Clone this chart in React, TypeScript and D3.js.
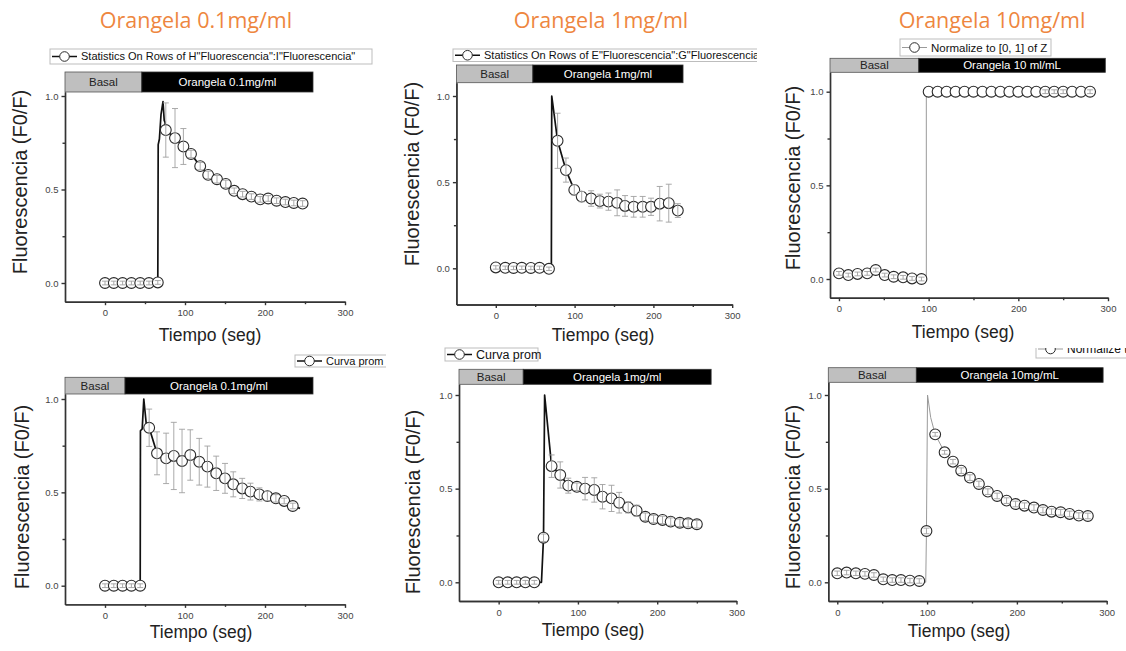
import { useEffect, useRef } from "react";
import * as d3 from "d3";

// each point: [time (s), F0/F, error]
const p1Points = [
  [0, 0, 0.01], [11, 0, 0.01], [22, 0, 0.01], [33, 0, 0.01], [44, 0, 0.01], [55, 0, 0.01], [66, 0.003, 0.01],
  [76, 0.818, 0.145], [87.5, 0.775, 0.158], [98, 0.73, 0.096], [107.5, 0.69, 0.02], [119, 0.625, 0.02],
  [129, 0.578, 0.02], [140, 0.555, 0.02], [151, 0.53, 0.02], [161.5, 0.493, 0.015], [172, 0.475, 0.015],
  [183, 0.462, 0.015], [194, 0.447, 0.015], [204, 0.452, 0.015], [214.5, 0.44, 0.015], [225.5, 0.433, 0.015],
  [236, 0.428, 0.015], [247, 0.425, 0.015],
];
// raw trace points drawn by the line only (no symbol)
const p1Trace = [[66.5, 0.74], [68, 0.77], [70, 0.9], [72.5, 0.97], [74, 0.87], [75, 0.86]];

const p2Points = [
  [0, 0.005, 0.01], [12, 0.003, 0.01], [22.5, 0.002, 0.01], [33, 0.003, 0.01], [44.5, 0.002, 0.01], [55.5, 0.003, 0.01],
  [67.5, -0.003, 0.01], [78.4, 0.74, 0.16], [89, 0.57, 0.07], [99.6, 0.455, 0.03], [109, 0.416, 0.03],
  [121, 0.405, 0.045], [132, 0.39, 0.04], [143, 0.387, 0.05], [154, 0.38, 0.075], [164, 0.362, 0.06],
  [175, 0.357, 0.06], [186.4, 0.357, 0.06], [197, 0.357, 0.05], [208, 0.375, 0.1], [219.5, 0.378, 0.11],
  [231, 0.335, 0.04],
];
const p2Trace = [[70.5, 0], [71, 1.0]];

const p3Points = [
  [0, 0.03, 0.01], [10.4, 0.021, 0.01], [20.7, 0.027, 0.01], [31.5, 0.03, 0.01], [41, 0.048, 0.01],
  [51, 0.021, 0.01], [61, 0.012, 0.01], [71.5, 0.009, 0.01], [81.5, 0.003, 0.01], [92, 0, 0.01],
  [100, 1, 0], [110, 1, 0], [120, 1, 0], [130, 1, 0], [140, 1, 0], [150, 1, 0], [160, 1, 0], [170, 1, 0],
  [180, 1, 0], [190, 1, 0], [200, 1, 0], [210, 1, 0], [220, 1, 0], [230, 1, 0.01], [240, 1, 0.01],
  [250, 1, 0.01], [260, 1, 0], [270, 1, 0], [280, 1, 0.01],
];
const p3Trace = [[97.4, 0], [97.4, 1.0]];

const p4Points = [
  [0, 0, 0.01], [11, 0, 0.01], [22, 0, 0.01], [33, 0, 0.01], [44, 0, 0.01],
  [55.2, 0.846, 0.1], [65, 0.709, 0.115], [76.4, 0.682, 0.135], [86, 0.695, 0.18], [96.3, 0.668, 0.17],
  [106.6, 0.7, 0.135], [117.8, 0.664, 0.125], [128, 0.638, 0.11], [139, 0.602, 0.092], [150, 0.575, 0.08],
  [160.3, 0.543, 0.067], [171.5, 0.521, 0.054], [181.8, 0.504, 0.045], [193, 0.489, 0.035], [203, 0.48, 0.025],
  [213.6, 0.468, 0.02], [224, 0.454, 0.015], [234.7, 0.427, 0.015],
];
const p4Trace = [[44.3, 0.83], [46.5, 0.84], [48.5, 1.0], [51.5, 0.87], [243.8, 0.414]];

const p5Points = [
  [0, 0, 0.01], [11.4, 0, 0.01], [22.7, 0, 0.01], [33.7, 0, 0.01], [45, 0, 0.01],
  [56.6, 0.238, 0.02], [66.8, 0.62, 0.06], [77.7, 0.573, 0.07], [87.8, 0.516, 0.04], [98.7, 0.51, 0.02],
  [109, 0.5, 0.06], [120.6, 0.493, 0.065], [131, 0.457, 0.065], [142.4, 0.448, 0.07], [152, 0.425, 0.055],
  [163.4, 0.4, 0.03], [174, 0.382, 0.03], [185, 0.35, 0.02], [195.4, 0.338, 0.02], [206.7, 0.333, 0.02],
  [217, 0.324, 0.02], [228.6, 0.318, 0.02], [239, 0.315, 0.02], [250, 0.31, 0.02],
];
const p5Trace = [[54, 0], [58, 1.0]];

const p6Points = [
  [0, 0.048, 0.012], [10.4, 0.052, 0.012], [20.7, 0.048, 0.012], [30.8, 0.045, 0.012], [40.8, 0.039, 0.012],
  [51.2, 0.016, 0.012], [61.2, 0.012, 0.012], [70.9, 0.012, 0.012], [80.9, 0.009, 0.012], [91.3, 0.007, 0.012],
  [99.3, 0.274, 0.015], [109, 0.79, 0.01], [119.5, 0.694, 0.01], [128.8, 0.644, 0.012], [138, 0.596, 0.015],
  [147.7, 0.559, 0.015], [157.7, 0.525, 0.015], [167.7, 0.484, 0.015], [178, 0.461, 0.015], [188.5, 0.436, 0.015],
  [198.5, 0.418, 0.015], [208.5, 0.409, 0.015], [219, 0.399, 0.015], [229, 0.386, 0.015], [238.6, 0.377, 0.015],
  [248.7, 0.374, 0.015], [258.7, 0.365, 0.015], [269, 0.356, 0.015], [279, 0.354, 0.015],
];
const p6Trace = [[98.5, 0], [100.5, 1.0], [104, 0.88]];

const titles = ["Orangela 0.1mg/ml", "Orangela 1mg/ml", "Orangela 10mg/ml"];
const legendLabels = [
  'Statistics On Rows of H"Fluorescencia":I"Fluorescencia"',
  'Statistics On Rows of E"Fluorescencia":G"Fluorescencia"',
  "Normalize to [0, 1] of Z",
  "Curva prom",
  "Curva prom",
  "Normalize to [0, 1] of Z",
];
const drugLabels = [
  "Orangela 0.1mg/ml", "Orangela 1mg/ml", "Orangela 10 ml/mL",
  "Orangela 0.1mg/ml", "Orangela 1mg/ml", "Orangela 10mg/mL",
];
// basal period end and drug bar end, in seconds
const bandEnds = [[46, 260], [47, 237.6], [89, 297], [25, 260], [31, 268], [88, 296]];
const xTicks = [0, 100, 200, 300];
const xMinor = [-50, 50, 150, 250];
const yTicks = [0, 0.5, 1];
const yMinor = [0.25, 0.75];

const FONT = "'Liberation Sans', Arial, sans-serif";
const AXIS = "#333";

const panels = [
  { points: p1Points, trace: p1Trace, xMin: -50, left: 65, right: 345, y0: 283, y1: 96, yMin: -0.1, band: [72, 92],
    legend: { x: 50, y: 49, w: 322, h: 15, fs: 11 }, ylab: [27, 182], xlab: [210, 341], thin: false },
  { points: p2Points, trace: p2Trace, xMin: -50, left: 456.4, right: 732.2, y0: 268.3, y1: 96, yMin: -0.21, band: [65, 82.7],
    legend: { x: 453, y: 49, w: 330, h: 12.5, fs: 11, clipRight: 757 }, ylab: [419, 174], xlab: [603, 341], thin: false },
  { points: p3Points, trace: p3Trace, xMin: -10, left: 830, right: 1108, y0: 279, y1: 91.7, yMin: -0.1, band: [58.3, 72.3],
    legend: { x: 900, y: 39, w: 151, h: 17, fs: 11.5 }, ylab: [800, 178], xlab: [963, 338], thin: true },
  { points: p4Points, trace: p4Trace, xMin: -50, left: 65, right: 345, y0: 585.7, y1: 399, yMin: -0.1, band: [377.3, 394],
    legend: { x: 295, y: 355, w: 100, h: 12, fs: 11, clipRight: 386 }, ylab: [29, 497], xlab: [201, 638], thin: false },
  { points: p5Points, trace: p5Trace, xMin: -50, left: 459, right: 736.5, y0: 582.3, y1: 395, yMin: -0.1, band: [369.3, 384.3],
    legend: { x: 445, y: 348, w: 93, h: 13, fs: 12.5 }, ylab: [420, 502], xlab: [593, 636], thin: false },
  { points: p6Points, trace: p6Trace, xMin: -10, left: 828.3, right: 1106.7, y0: 582.3, y1: 395, yMin: -0.1, band: [367.7, 382.3],
    legend: { x: 1036, y: 340, w: 140, h: 18, fs: 12, clipTop: 348 }, ylab: [800, 497], xlab: [959, 637], thin: true },
];
const titleX = [196, 601, 992];

function Panel({ cfg, idx }) {
  const xRef = useRef(null);
  const yRef = useRef(null);

  const unit = d3.scaleLinear().domain([0, 1]).range([cfg.y0, cfg.y1]);
  const yTop = unit.invert(cfg.band[1]);
  const bottom = unit(cfg.yMin);
  const x = d3.scaleLinear().domain([cfg.xMin, 300]).range([cfg.left, cfg.right]);
  const y = d3.scaleLinear().domain([cfg.yMin, yTop]).range([bottom, cfg.band[1]]);

  useEffect(() => {
    const gx = d3.select(xRef.current);
    gx.selectAll("*").remove();
    gx.append("g").call(
      d3.axisBottom(x).tickValues(xMinor.filter((v) => v > cfg.xMin)).tickSize(2.5).tickFormat(() => "").tickSizeOuter(0)
    );
    gx.append("g").call(d3.axisBottom(x).tickValues(xTicks).tickSize(3.5).tickPadding(4.5).tickSizeOuter(0));
    gx.selectAll("path, line").attr("stroke", AXIS).attr("stroke-width", 1.4);
    gx.selectAll("text").attr("font-size", 9.5).attr("font-family", FONT).attr("fill", "#444");

    const gy = d3.select(yRef.current);
    gy.selectAll("*").remove();
    gy.append("g").call(d3.axisLeft(y).tickValues(yMinor).tickSize(2.5).tickFormat(() => "").tickSizeOuter(0));
    gy.append("g").call(
      d3.axisLeft(y).tickValues(yTicks).tickSize(3.5).tickPadding(3).tickSizeOuter(0).tickFormat(d3.format(".1f"))
    );
    gy.selectAll("path, line").attr("stroke", AXIS).attr("stroke-width", 1.4);
    gy.selectAll("text").attr("font-size", 9.5).attr("font-family", FONT).attr("fill", "#444");
  });

  const lineData = [...cfg.points.map((d) => [d[0], d[1]]), ...cfg.trace].sort((a, b) => a[0] - b[0]);
  const line = d3.line().x((d) => x(d[0])).y((d) => y(d[1]));
  const [basalEnd, drugEnd] = bandEnds[idx];
  const bh = cfg.band[1] - cfg.band[0];
  const lg = cfg.legend;
  const clipId = `leg-clip-${idx}`;
  const lineColor = cfg.thin ? "#9a9a9a" : "#111";

  return (
    <g>
      {/* treatment bar */}
      <rect x={x(cfg.xMin)} y={cfg.band[0]} width={x(basalEnd) - x(cfg.xMin)} height={bh} fill="#bfbfbf" stroke="#555" strokeWidth={0.8} />
      <rect x={x(basalEnd)} y={cfg.band[0]} width={x(drugEnd) - x(basalEnd)} height={bh} fill="#000" stroke="#333" strokeWidth={0.8} />
      <text x={(x(cfg.xMin) + x(basalEnd)) / 2} y={cfg.band[0] + bh / 2 + 4} textAnchor="middle" fontSize={11.5} fontFamily={FONT} fill="#222">
        Basal
      </text>
      <text x={(x(basalEnd) + x(drugEnd)) / 2} y={cfg.band[0] + bh / 2 + 4} textAnchor="middle" fontSize={11.5} fontFamily={FONT} fill="#fff">
        {drugLabels[idx]}
      </text>

      <g ref={xRef} transform={`translate(0,${bottom})`} />
      <g ref={yRef} transform={`translate(${cfg.left},0)`} />

      <path d={line(lineData)} fill="none" stroke={lineColor} strokeWidth={cfg.thin ? 1 : 1.7} strokeLinejoin="round" />
      {cfg.points.map((d, i) => (
        <circle key={i} cx={x(d[0])} cy={y(d[1])} r={5.4} fill="#fff" stroke="#2a2a2a" strokeWidth={1.1} />
      ))}
      {cfg.points.filter((d) => d[2] > 0).map((d, i) => (
        <g key={`e${i}`} stroke="#a0a0a0" strokeWidth={0.9}>
          <line x1={x(d[0])} x2={x(d[0])} y1={y(d[1] - d[2])} y2={y(d[1] + d[2])} />
          <line x1={x(d[0]) - 3} x2={x(d[0]) + 3} y1={y(d[1] - d[2])} y2={y(d[1] - d[2])} />
          <line x1={x(d[0]) - 3} x2={x(d[0]) + 3} y1={y(d[1] + d[2])} y2={y(d[1] + d[2])} />
        </g>
      ))}

      {/* legend */}
      <clipPath id={clipId}>
        <rect x={0} y={lg.clipTop ?? 0} width={lg.clipRight ?? 1126} height={651} />
      </clipPath>
      <g clipPath={`url(#${clipId})`}>
        <rect x={lg.x} y={lg.y} width={lg.w} height={lg.h} fill="#fff" stroke="#bdbdbd" strokeWidth={1} />
        <line x1={lg.x + 2} x2={lg.x + 27} y1={lg.y + lg.h / 2} y2={lg.y + lg.h / 2} stroke={lineColor} strokeWidth={cfg.thin ? 1 : 1.5} />
        <circle cx={lg.x + 14.5} cy={lg.y + lg.h / 2} r={4.8} fill="#fff" stroke="#2a2a2a" strokeWidth={1} />
        <text x={lg.x + 31} y={lg.y + lg.h / 2 + lg.fs * 0.36} fontSize={lg.fs} fontFamily={FONT} fill="#111">
          {legendLabels[idx]}
        </text>
      </g>

      <text
        transform={`translate(${cfg.ylab[0]},${cfg.ylab[1]}) rotate(-90)`}
        textAnchor="middle"
        fontSize={20}
        fontFamily={FONT}
        fill="#222"
      >
        Fluorescencia (F0/F)
      </text>
      <text x={cfg.xlab[0]} y={cfg.xlab[1]} textAnchor="middle" fontSize={17.5} fontFamily={FONT} fill="#222">
        Tiempo (seg)
      </text>
    </g>
  );
}

export default function App() {
  return (
    <div style={{ position: "absolute", left: 0, top: 0, background: "#fff" }}>
      <svg width={1126} height={651} style={{ display: "block" }}>
        <rect width={1126} height={651} fill="#fff" />
        {titles.map((t, i) => (
          <text key={t} x={titleX[i]} y={28} textAnchor="middle" fontSize={21.5} fontFamily="'Open Sans', Lato, sans-serif" fill="#EE8640">
            {t}
          </text>
        ))}
        {panels.map((p, i) => (
          <Panel key={i} cfg={p} idx={i} />
        ))}
      </svg>
    </div>
  );
}
